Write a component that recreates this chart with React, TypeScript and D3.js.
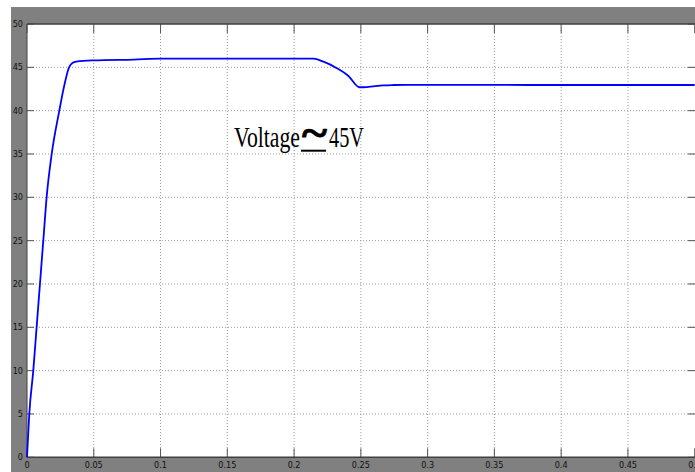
import React from "react";
import * as d3 from "d3";

// time (s) and voltage (V)
const timeS = [
  0, 0.0017, 0.0047, 0.0072, 0.0097, 0.0122, 0.0147, 0.0185, 0.0242, 0.0272,
  0.0315, 0.034, 0.037, 0.05, 0.08, 0.1, 0.15, 0.2, 0.2145, 0.222, 0.232,
  0.2407, 0.249, 0.2545, 0.267, 0.2745, 0.2845, 0.35, 0.4, 0.45, 0.5,
];
const voltage = [
  0, 5, 10, 15, 20, 25, 30, 35, 40, 42.4, 45, 45.5, 45.65, 45.8, 45.9, 46,
  46, 46, 46, 45.65, 44.9, 44.0, 42.7, 42.72, 42.92, 42.96, 42.98, 42.97,
  42.96, 42.96, 42.96,
];
const xTicks = [0, 0.05, 0.1, 0.15, 0.2, 0.25, 0.3, 0.35, 0.4, 0.45, 0.5];
const yTicks = [0, 5, 10, 15, 20, 25, 30, 35, 40, 45, 50];

const W = 695;
const H = 472;
const plot = { left: 27, top: 24, right: 694.7, bottom: 457.3 };

const App = () => {
  const x = d3.scaleLinear().domain([0, 0.5]).range([plot.left, plot.right]);
  const y = d3.scaleLinear().domain([0, 50]).range([plot.bottom, plot.top]);

  const pts = timeS.map((t, i) => [t, voltage[i]] as [number, number]);
  const line = d3
    .line<[number, number]>()
    .x((d) => x(d[0]))
    .y((d) => y(d[1]))
    .curve(d3.curveMonotoneX);

  const tickFont = "'Liberation Sans Narrow', 'DejaVu Sans Condensed', sans-serif";

  return (
    <svg
      width={W}
      height={H}
      style={{ position: "absolute", left: 0, top: 0 }}
    >
      <rect x={0} y={0} width={W} height={H} fill="#fff" />
      <rect x={11} y={7} width={W - 11} height={H - 7} fill="#808080" />
      <rect
        x={plot.left}
        y={plot.top}
        width={W - plot.left}
        height={plot.bottom - plot.top}
        fill="#fff"
      />

      {/* grid */}
      {xTicks.slice(1, -1).map((t) => (
        <line
          key={"gx" + t}
          x1={x(t)}
          x2={x(t)}
          y1={plot.top}
          y2={plot.bottom}
          stroke="#9a9a9a"
          strokeWidth={1}
          strokeDasharray="1,2"
        />
      ))}
      {yTicks.slice(1, -1).map((v) => (
        <line
          key={"gy" + v}
          x1={plot.left}
          x2={W}
          y1={y(v)}
          y2={y(v)}
          stroke="#9a9a9a"
          strokeWidth={1}
          strokeDasharray="1,2"
        />
      ))}

      {/* ticks */}
      {xTicks.map((t) => (
        <g key={"tx" + t}>
          <line x1={x(t)} x2={x(t)} y1={plot.bottom} y2={plot.bottom - 9} stroke="#555" />
          <line x1={x(t)} x2={x(t)} y1={plot.top} y2={plot.top + 9} stroke="#555" />
          <text
            x={x(t)}
            y={plot.bottom + 11}
            fontSize={9}
            fontFamily={tickFont}
            textAnchor="middle"
            fill="#111"
          >
            {String(t)}
          </text>
        </g>
      ))}
      {yTicks.map((v) => (
        <g key={"ty" + v}>
          <line x1={plot.left} x2={plot.left + 7} y1={y(v)} y2={y(v)} stroke="#555" />
          <line x1={W - 7} x2={W} y1={y(v)} y2={y(v)} stroke="#555" />
          <text
            x={plot.left - 4}
            y={y(v) + 3}
            fontSize={9}
            fontFamily={tickFont}
            textAnchor="end"
            fill="#111"
          >
            {String(v)}
          </text>
        </g>
      ))}

      {/* frame */}
      <line x1={plot.left} x2={W} y1={plot.top} y2={plot.top} stroke="#404040" strokeWidth={1.5} />
      <line x1={plot.left} x2={W} y1={plot.bottom} y2={plot.bottom} stroke="#404040" strokeWidth={1.5} />
      <line x1={plot.left} x2={plot.left} y1={plot.top} y2={plot.bottom} stroke="#404040" strokeWidth={1} />

      {/* trace */}
      <path d={line(pts) ?? ""} fill="none" stroke="#0000ff" strokeWidth={1.8} />

      {/* annotation */}
      <g fontFamily="'Liberation Serif', 'Times New Roman', serif" fill="#000">
        <text x={234} y={147} fontSize={29} textLength={66} lengthAdjust="spacingAndGlyphs">
          Voltage
        </text>
        <text
          x={302}
          y={147}
          fontSize={42}
          fontWeight="bold"
          stroke="#000"
          strokeWidth={0.8}
          textLength={25}
          lengthAdjust="spacingAndGlyphs"
        >
          ~
        </text>
        <line x1={301} x2={326} y1={150.7} y2={150.7} stroke="#000" strokeWidth={2} />
        <text x={329} y={147} fontSize={29} textLength={35} lengthAdjust="spacingAndGlyphs">
          45V
        </text>
      </g>
    </svg>
  );
};

export default App;
